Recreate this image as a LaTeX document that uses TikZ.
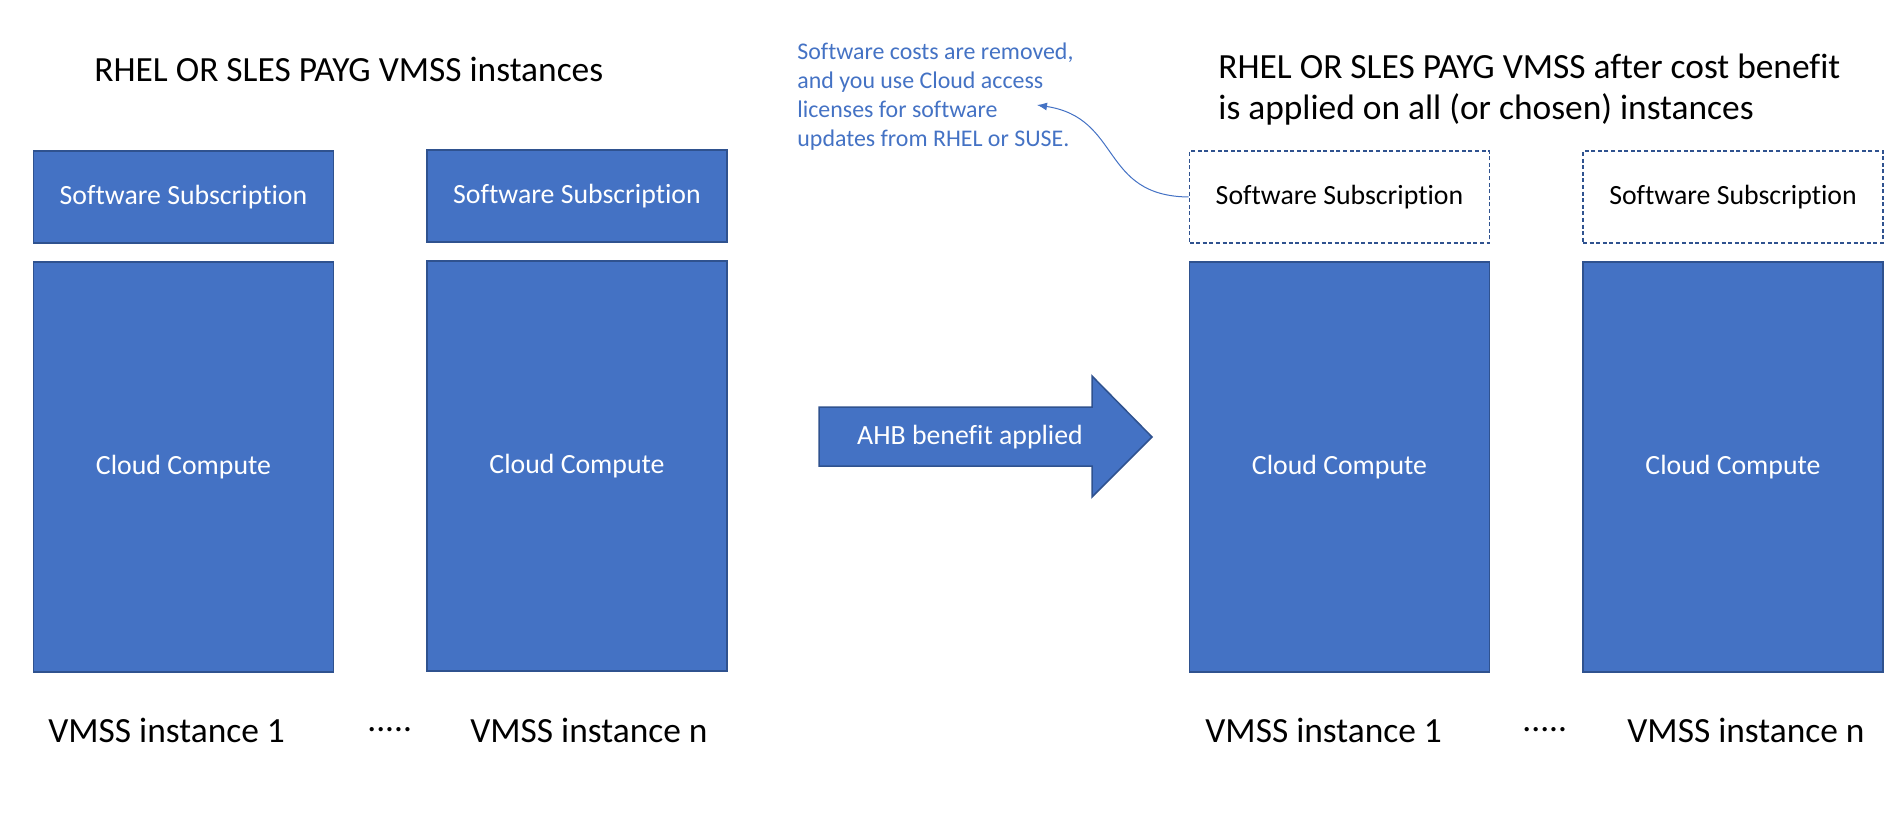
\documentclass[tikz,border=0pt]{standalone}
\usepackage{fontspec}
\setmainfont{Carlito}[Ligatures=NoCommon]
\usetikzlibrary{arrows.meta}
\definecolor{boxblue}{HTML}{4472C4}
\definecolor{edgeblue}{HTML}{2F528F}

\begin{document}
\begin{tikzpicture}[x=0.5pt, y=-0.5pt,
        sub/.style={draw=edgeblue, line width=0.75pt, fill=boxblue, text=white,
            minimum width=150pt, minimum height=46pt, inner sep=0pt,
            font=\fontsize{13.9}{16}\selectfont},
        subgone/.style={sub, fill=white, text=black, line width=0.9pt,
            dash pattern=on 2pt off 1.3pt},
        compute/.style={sub, minimum height=205pt},
        heading/.style={anchor=west, inner sep=0pt, align=left,
            font=\fontsize{17.7}{20.5}\selectfont},
        inst/.style={anchor=west, inner sep=0pt, font=\fontsize{17.7}{20}\selectfont},
        note/.style={anchor=north west, inner sep=0pt, align=left, text=boxblue,
            font=\fontsize{11.95}{14.4}\selectfont}]
        \useasboundingbox (0,0) rectangle (1899,828);
        \node[heading] (t1) at (94,69) {RHEL OR SLES PAYG VMSS instances};
        \node[heading] (t2) at (1218,90) {RHEL OR SLES PAYG VMSS after cost benefit\\is applied on all (or chosen) instances};
        \node[sub] (a) at (183.5,197) {Software Subscription};
        \node[sub] (b) at (577,196) {Software Subscription};
        \node[subgone] (c) at (1339.5,197) {Software Subscription};
        \node[subgone] (d) at (1733,197) {Software Subscription};
        \node[compute] (ac) at (183.5,467) {Cloud Compute};
        \node[compute] (bc) at (577,466) {Cloud Compute};
        \node[compute] (cc) at (1339.5,467) {Cloud Compute};
        \node[compute] (dc) at (1733,467) {Cloud Compute};
        \node[inst] (ai) at (48,730) {VMSS instance 1};
        \node[inst] (ad) at (367,730) {.....};
        \node[inst] (bi) at (470,730) {VMSS instance n};
        \node[inst] (ci) at (1205,730) {VMSS instance 1};
        \node[inst] (cd) at (1522,730) {.....};
        \node[inst] (di) at (1627,730) {VMSS instance n};
        \filldraw[fill=boxblue, draw=edgeblue, line width=0.75pt]
            (819,407) -- (1092,407) -- (1092,376) -- (1152,437) -- (1092,497) -- (1092,466) -- (819,466) -- cycle;
        \node[text=white, font=\fontsize{13.9}{16}\selectfont] (ahb) at (970,437) {AHB benefit applied};
        \node[note] (n) at (797,43) {Software costs are removed,\\and you use Cloud access\\licenses for software\\updates from RHEL or SUSE.};
        \coordinate (tip) at (1037,105);
        \draw[boxblue, line width=0.5pt, -{Latex[length=5pt,width=4pt]}]
            (c.west) .. controls (1100,196) and (1122,118) .. (tip);
\end{tikzpicture}
\end{document}
